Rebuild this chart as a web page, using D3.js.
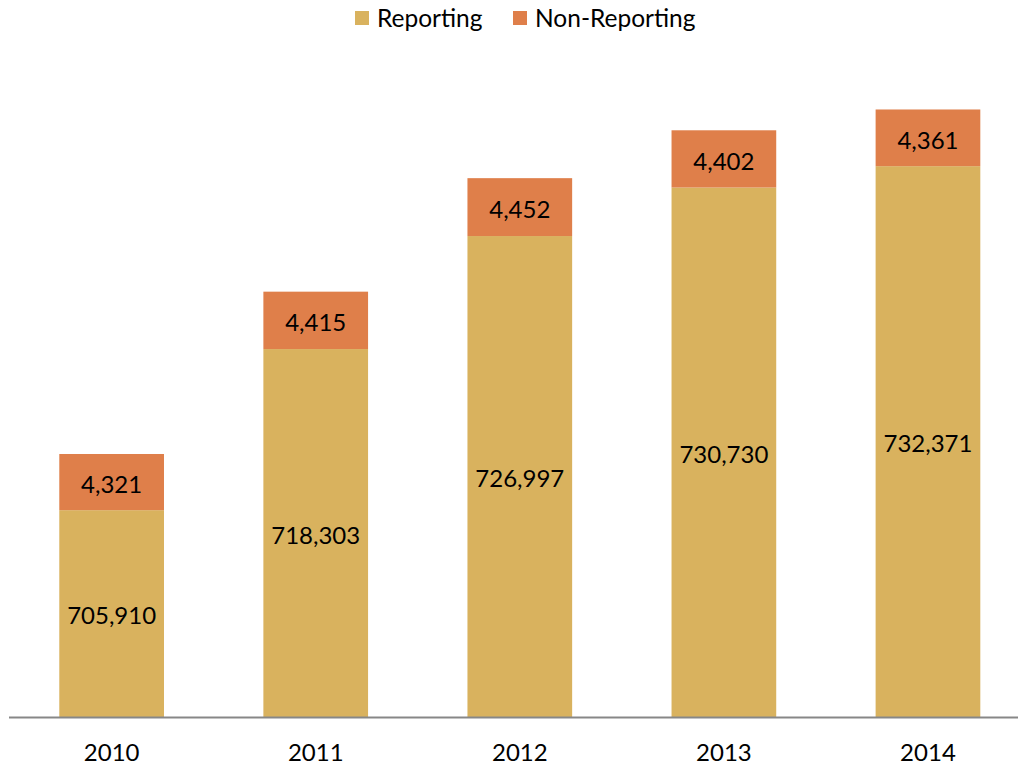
<!DOCTYPE html>
<html>
<head>
<meta charset="utf-8">
<title>Reporting</title>
<script src="https://d3js.org/d3.v7.min.js"></script>
<style>
  body { margin: 0; background: #fff; }
  text { font-family: Lato, "Open Sans", sans-serif; fill: #000; }
</style>
</head>
<body>
<svg id="chart" width="1018" height="767"></svg>
<script>
var years = ['2010', '2011', '2012', '2013', '2014'];
var reporting = [705910, 718303, 726997, 730730, 732371];
var nonReporting = [4321, 4415, 4452, 4402, 4361];
var seriesNames = ['Reporting', 'Non-Reporting'];
var colors = ['#D9B25E', '#DF7F4A'];

var svg = d3.select('#chart');
var plotLeft = 9.6, plotRight = 1030, plotTop = 67, plotBottom = 717;
var yMin = 690000;

var x = d3.scaleBand().domain(years).range([plotLeft, plotRight]).paddingInner(0.487).paddingOuter(0.2435);
var y = d3.scaleLinear().domain([yMin, 740000]).range([plotBottom, plotTop]);

var rows = years.map(function(yr, i) {
  return {year: yr, Reporting: reporting[i], 'Non-Reporting': nonReporting[i]};
});
var stacked = d3.stack().keys(seriesNames)(rows);

var g = svg.append('g');
stacked.forEach(function(s, si) {
  g.selectAll('rect.s' + si)
    .data(s)
    .enter().append('rect')
    .attr('class', 's' + si)
    .attr('x', function(d) { return x(d.data.year); })
    .attr('width', x.bandwidth())
    .attr('y', function(d) { return y(d[1]); })
    .attr('height', function(d) { return y(Math.max(d[0], yMin)) - y(d[1]); })
    .attr('fill', colors[si]);

  g.selectAll('text.s' + si)
    .data(s)
    .enter().append('text')
    .attr('class', 's' + si)
    .attr('x', function(d) { return x(d.data.year) + x.bandwidth() / 2; })
    .attr('y', function(d) { return (y(Math.max(d[0], yMin)) + y(d[1])) / 2; })
    .attr('dy', '0.45em')
    .attr('text-anchor', 'middle')
    .style('font-size', '24px')
    .text(function(d) { return d3.format(',')(d[1] - d[0]); });
});

// axis
var axis = svg.append('g').attr('transform', 'translate(0,' + plotBottom + ')')
  .call(d3.axisBottom(x).tickSize(0).tickPadding(27));
axis.select('.domain').attr('d', 'M9,0.5H1030').attr('stroke', '#878787').attr('stroke-width', 2);
axis.selectAll('text').style('font-size', '24px').style('font-family', 'Lato, "Open Sans", sans-serif').attr('fill', '#000');

// legend
var legend = svg.append('g');
var lx = [355, 513];
seriesNames.forEach(function(n, i) {
  legend.append('rect').attr('x', lx[i]).attr('y', 11).attr('width', 14).attr('height', 14).attr('fill', colors[i]);
  legend.append('text').attr('x', lx[i] + 22).attr('y', 18).attr('dy', '0.35em')
    .style('font-size', '24.5px').text(n);
});
</script>
</body>
</html>
